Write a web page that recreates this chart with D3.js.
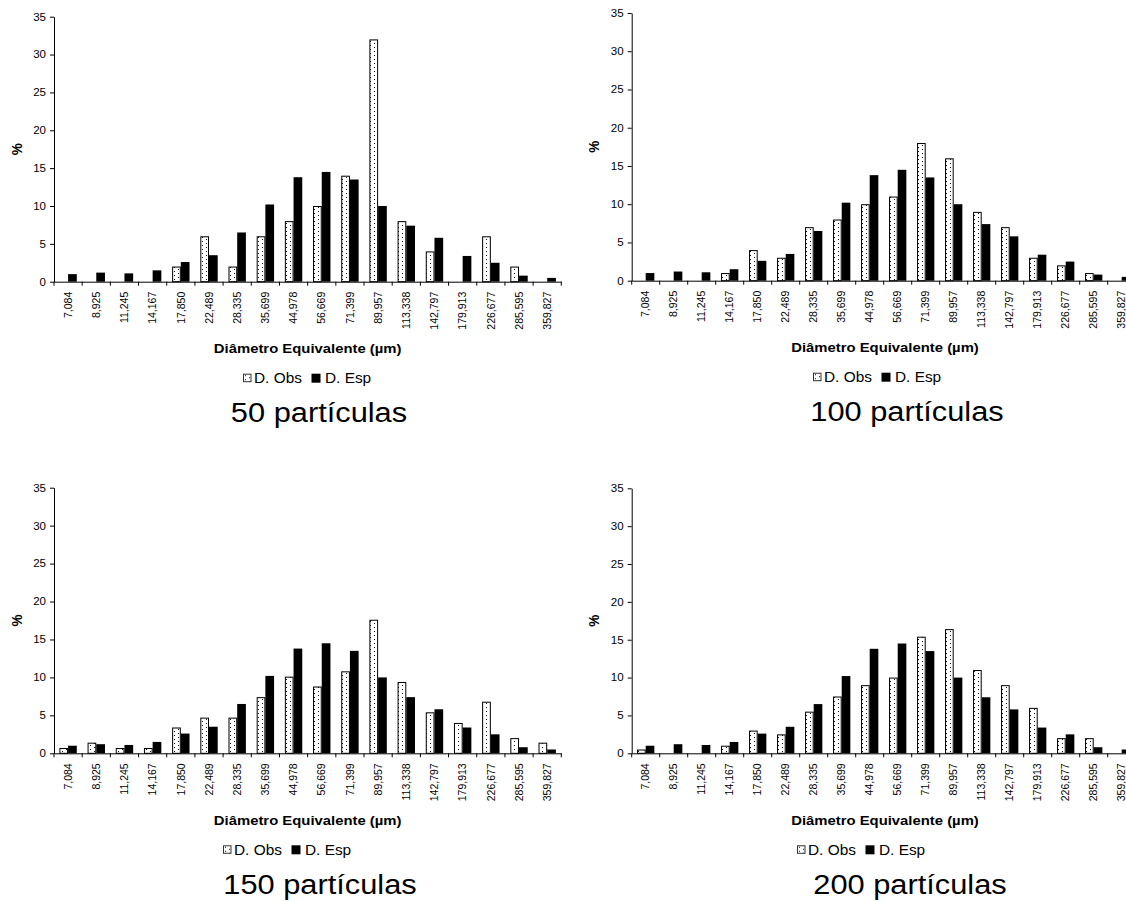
<!DOCTYPE html>
<html>
<head>
<meta charset="utf-8">
<script src="https://cdn.jsdelivr.net/npm/d3@7"></script>
<style>
  html, body { margin: 0; padding: 0; background: #fff; }
  svg { display: block; }
  text { font-family: "Liberation Sans", Arial, sans-serif; fill: #000; }
</style>
</head>
<body>
<svg id="chart" width="1126" height="901"></svg>
<script>
// ---- data ----
const categories = ["7,084","8,925","11,245","14,167","17,850","22,489","28,335","35,699","44,978",
  "56,669","71,399","89,957","113,338","142,797","179,913","226,677","285,595","359,827"];
const yTicks = [0, 5, 10, 15, 20, 25, 30, 35];
const seriesNames = ["D. Obs", "D. Esp"];
const xTitle = "Diâmetro Equivalente (µm)";
const yTitle = "%";
const panelTitles = ["50 partículas", "100 partículas", "150 partículas", "200 partículas"];

const esp = [1.0, 1.2, 1.1, 1.5, 2.6, 3.5, 6.5, 10.2, 13.8, 14.5, 13.5, 10.0, 7.4, 5.8, 3.4, 2.5, 0.8, 0.5];
const obs50 = [0, 0, 0, 0, 2, 6, 2, 6, 8, 10, 14, 32, 8, 4, 0, 6, 2, 0];
const obs100 = [0, 0, 0, 1, 4, 3, 7, 8, 10, 11, 18, 16, 9, 7, 3, 2, 1, 0];
const obs150 = [0.7, 1.4, 0.7, 0.7, 3.4, 4.7, 4.7, 7.4, 10.1, 8.8, 10.8, 17.6, 9.4, 5.4, 4.0, 6.8, 2.0, 1.4];
const obs200 = [0.5, 0, 0, 1.0, 3.0, 2.5, 5.5, 7.5, 9.0, 10.0, 15.4, 16.4, 11.0, 9.0, 6.0, 2.0, 2.0, 0];

// ---- layout ----
const SX = 1.1; // horizontal stretch of text seen in the reference
const panels = [
  { obs: obs50,  title: panelTitles[0], x0: 54,    x1: 561.3,  top: 16.7,  bottom: 281.7, yLab: 17,  titleX: 319, legendX: 243 },
  { obs: obs100, title: panelTitles[1], x0: 631.7, x1: 1135.7, top: 13,    bottom: 280.7, yLab: 594, titleX: 907, legendX: 813, xTitleX: 885 },
  { obs: obs150, title: panelTitles[2], x0: 54,    x1: 561.3,  top: 487.7, bottom: 753.3, yLab: 17,  titleX: 320, legendX: 223 },
  { obs: obs200, title: panelTitles[3], x0: 631.7, x1: 1135.7, top: 488.3, bottom: 753.3, yLab: 594, titleX: 910, legendX: 797, xTitleX: 885 }
];

const svg = d3.select("#chart");
const defs = svg.append("defs");
const pat = defs.append("pattern").attr("id", "dots")
  .attr("patternUnits", "userSpaceOnUse").attr("width", 8).attr("height", 4);
pat.append("rect").attr("width", 8).attr("height", 4).attr("fill", "#fff");
pat.append("rect").attr("x", 2).attr("y", 1).attr("width", 1).attr("height", 1).attr("fill", "#111");
pat.append("rect").attr("x", 6).attr("y", 3).attr("width", 1).attr("height", 1).attr("fill", "#111");

function drawPanel(p) {
  const g = svg.append("g");
  const x = d3.scaleBand().domain(categories).range([p.x0, p.x1]).padding(0);
  const xs = d3.scaleBand().domain(seriesNames).range([0, x.bandwidth()]).paddingInner(0).paddingOuter(0.62);
  const y = d3.scaleLinear().domain([0, 35]).range([p.bottom, p.top]);

  const rows = categories.map((c, i) => ({ c, obs: p.obs[i], esp: esp[i] }));

  // bars
  g.selectAll("rect.obs").data(rows.filter(d => d.obs > 0)).join("rect")
    .attr("class", "obs")
    .attr("x", d => x(d.c) + xs("D. Obs") + 0.5)
    .attr("y", d => y(d.obs) + 0.5)
    .attr("width", xs.bandwidth() - 1)
    .attr("height", d => y(0) - y(d.obs) - 0.5)
    .attr("fill", "url(#dots)")
    .attr("stroke", "#000").attr("stroke-width", 1);
  g.selectAll("rect.esp").data(rows.filter(d => d.esp > 0)).join("rect")
    .attr("class", "esp")
    .attr("x", d => x(d.c) + xs("D. Esp"))
    .attr("y", d => y(d.esp))
    .attr("width", xs.bandwidth())
    .attr("height", d => y(0) - y(d.esp))
    .attr("fill", "#000");

  // y axis
  const ya = g.append("g").attr("transform", `translate(${p.x0},0)`)
    .call(d3.axisLeft(y).tickValues(yTicks).tickSize(4).tickPadding(4).tickSizeOuter(0));
  ya.select(".domain").attr("stroke", "#000");
  ya.selectAll(".tick line").attr("stroke", "#000");
  ya.selectAll(".tick text").attr("font-size", 10.5).attr("fill", "#000")
    .attr("font-family", "Liberation Sans, Arial, sans-serif")
    .attr("transform", `scale(${SX},1)`)
    .attr("x", -8 / SX);

  // x axis (labels at band centres, ticks at band boundaries)
  const xa = g.append("g").attr("transform", `translate(0,${p.bottom})`)
    .call(d3.axisBottom(x).tickSize(0).tickSizeOuter(0));
  xa.select(".domain").attr("stroke", "#000");
  xa.selectAll(".tick text")
    .attr("font-size", 10.5).attr("fill", "#000")
    .attr("font-family", "Liberation Sans, Arial, sans-serif")
    .attr("text-anchor", "end")
    .attr("transform", "rotate(-90)")
    .attr("x", -10).attr("y", 0).attr("dy", "0.35em");
  const bounds = categories.map(c => x(c)).concat([x.range()[1]]);
  xa.selectAll("line.bt").data(bounds).join("line").attr("class", "bt")
    .attr("x1", d => d).attr("x2", d => d).attr("y1", 0).attr("y2", 4)
    .attr("stroke", "#000");

  // axis titles
  const midY = (p.top + p.bottom) / 2;
  g.append("text")
    .attr("transform", `translate(${p.yLab},${midY}) rotate(-90) scale(1,${SX})`)
    .attr("text-anchor", "middle").attr("dy", "0.35em")
    .attr("font-size", 13.5).attr("font-weight", "bold").text(yTitle);
  const xtx = p.xTitleX != null ? p.xTitleX : (p.x0 + p.x1) / 2;
  g.append("text")
    .attr("transform", `translate(${xtx},${p.bottom + 71.5}) scale(${SX},1)`)
    .attr("text-anchor", "middle")
    .attr("font-size", 13.5).attr("font-weight", "bold").text(xTitle);

  // legend
  const ly = p.bottom + 96.5;
  const lg = g.append("g").attr("transform", `translate(${p.legendX},${ly})`);
  lg.append("rect").attr("x", 0.5).attr("y", -4).attr("width", 7.5).attr("height", 7.5)
    .attr("fill", "url(#dots)").attr("stroke", "#333");
  lg.append("text").attr("transform", `translate(11,5) scale(${SX},1)`)
    .attr("font-size", 14).text(seriesNames[0]);
  lg.append("rect").attr("x", 68.5).attr("y", -4.5).attr("width", 9).attr("height", 9)
    .attr("fill", "#000");
  lg.append("text").attr("transform", `translate(82,5) scale(${SX},1)`)
    .attr("font-size", 14).text(seriesNames[1]);

  // panel title
  g.append("text")
    .attr("transform", `translate(${p.titleX},${p.bottom + 140.5}) scale(${SX},1)`)
    .attr("text-anchor", "middle").attr("font-size", 28).text(p.title);
}

panels.forEach(drawPanel);
</script>
</body>
</html>
